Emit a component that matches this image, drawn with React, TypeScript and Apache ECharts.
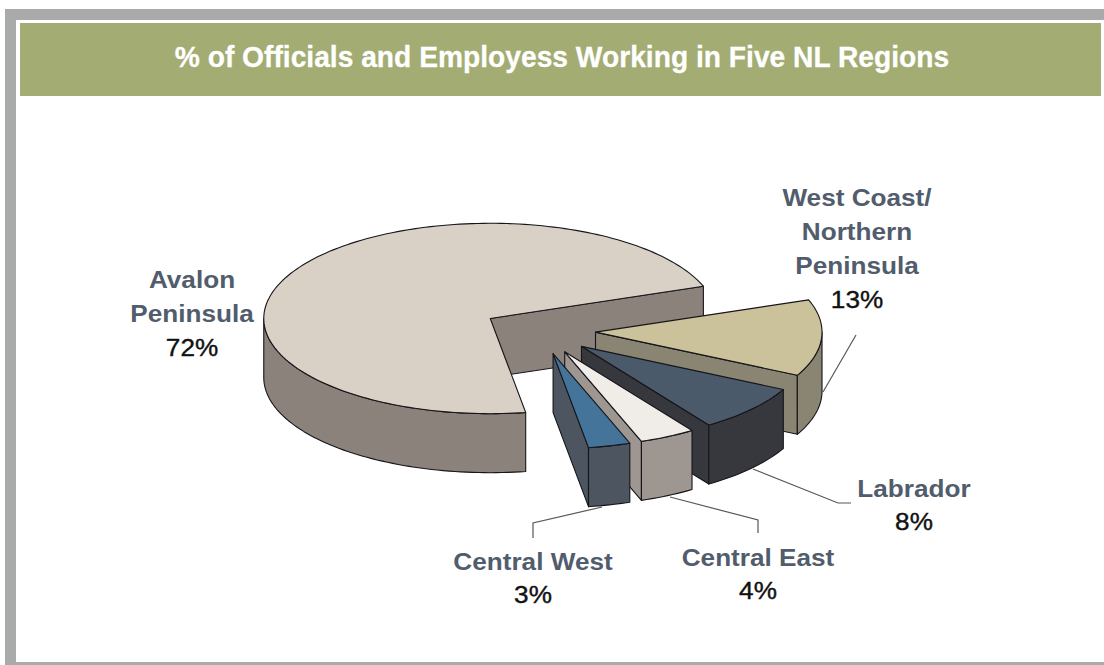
import React, { useEffect, useRef } from "react";
import * as echarts from "echarts";

const titleText = "% of Officials and Employess Working in Five NL Regions";
// Clockwise around the pie, starting from the gap side of the largest slice
const regions = ["Avalon\nPeninsula", "West Coast/\nNorthern\nPeninsula", "Labrador", "Central East", "Central West"];
const shares = [72, 13, 8, 4, 3];

const topColors = ["#d9d0c6", "#cbc29b", "#4b5a6a", "#f0ece8", "#44749a"];
const sideColors = ["#8b827c", "#8a8473", "#36383e", "#9e9690", "#4c5560"];

const PIE = { cx: 539, cy: 330.6, rx: 226.5, ry: 95.2, depth: 59, explode: 0.25, startDeg: 279 };
const labelAnchors = [
  { x: 192, y: 279 },
  { x: 857, y: 197 },
  { x: 914, y: 488 },
  { x: 758, y: 557 },
  { x: 533, y: 561 },
];
const LINE_GAP = 34;
const leaders: number[][][] = [
  [[823, 392], [856, 335]],
  [[753, 469], [838, 503], [851, 503]],
  [[670, 497], [758, 520], [758, 533]],
  [[602, 507], [533, 523], [533, 538]],
];

const total = shares.reduce((s, v) => s + v, 0);
const RAD = Math.PI / 180;

function slicePolys(index: number) {
  const before = shares.slice(0, index).reduce((s, v) => s + v, 0);
  const hi = PIE.startDeg - (before / total) * 360;
  const lo = hi - (shares[index] / total) * 360;
  const mid = (lo + hi) / 2;
  const ox = PIE.cx + PIE.explode * PIE.rx * Math.cos(mid * RAD);
  const oy = PIE.cy - PIE.explode * PIE.ry * Math.sin(mid * RAD);
  const pt = (deg: number, dy = 0) => [
    ox + PIE.rx * Math.cos(deg * RAD),
    oy - PIE.ry * Math.sin(deg * RAD) + dy,
  ];
  const arc = (from: number, to: number, dy = 0) => {
    const n = Math.max(2, Math.ceil(Math.abs(to - from) / 1.5));
    const out: number[][] = [];
    for (let i = 0; i <= n; i++) out.push(pt(from + ((to - from) * i) / n, dy));
    return out;
  };
  const apex = [ox, oy];
  const apexLow = [ox, oy + PIE.depth];
  const faces: number[][][] = [];
  // the cut faces that look towards the viewer
  if (Math.cos(lo * RAD) > 0) faces.push([apex, pt(lo), pt(lo, PIE.depth), apexLow]);
  if (Math.cos(hi * RAD) < 0) faces.push([apex, pt(hi), pt(hi, PIE.depth), apexLow]);
  // the visible part of the outer wall: the front half of the ellipse
  const walls: number[][][] = [];
  for (const shift of [0, -360]) {
    const a = Math.max(lo, 180 + shift);
    const b = Math.min(hi, 360 + shift);
    if (b > a) walls.push([...arc(a, b), ...arc(b, a, PIE.depth)]);
  }
  const top = [apex, ...arc(lo, hi)];
  return { faces, walls, top };
}

function renderSlice(params: any, api: any) {
  const i = params.dataIndex;
  api.value(0);
  const { faces, walls, top } = slicePolys(i);
  const line = { stroke: "#15151a", lineWidth: 1.1, lineJoin: "round" };
  const poly = (points: number[][], fill: string) => ({
    type: "polygon",
    shape: { points },
    style: { fill, ...line },
  });
  return {
    type: "group",
    children: [
      ...faces.map((p) => poly(p, sideColors[i])),
      ...walls.map((p) => poly(p, sideColors[i])),
      poly(top, topColors[i]),
    ],
  };
}

function labelGraphics() {
  const out: any[] = [];
  regions.forEach((name, i) => {
    const lines = name.split("\n");
    const { x, y } = labelAnchors[i];
    lines.forEach((t, k) => {
      out.push({
        type: "text",
        x,
        y: y + k * LINE_GAP,
        scaleX: 1.09,
        z: 20,
        style: {
          text: t,
          fontFamily: "Liberation Sans",
          fontWeight: "bold",
          fontSize: 24,
          fill: "#515c6c",
          textAlign: "center",
          textVerticalAlign: "middle",
        },
      });
    });
    out.push({
      type: "text",
      x,
      y: y + lines.length * LINE_GAP - (lines.length === 1 ? 1 : 0),
      scaleX: 1.09,
      z: 20,
      style: {
        text: `${shares[i]}%`,
        fontFamily: "Liberation Sans",
        fontSize: 24,
        fill: "#111111",
        stroke: "#111111",
        lineWidth: 0.4,
        textAlign: "center",
        textVerticalAlign: "middle",
      },
    });
  });
  return out;
}

export default function App() {
  const ref = useRef<HTMLDivElement>(null);
  useEffect(() => {
    document.body.style.margin = "0";
    const chart = echarts.init(ref.current!, undefined, { renderer: "svg" });
    chart.setOption({
      animation: false,
      backgroundColor: "#ffffff",
      graphic: [
        { type: "rect", z: 1, shape: { x: 5, y: 9, width: 1099, height: 11 }, style: { fill: "#a9abaa" } },
        { type: "rect", z: 1, shape: { x: 5, y: 9, width: 11, height: 656 }, style: { fill: "#a9abaa" } },
        { type: "rect", z: 1, shape: { x: 5, y: 662, width: 1099, height: 3 }, style: { fill: "#a9abaa" } },
        { type: "rect", z: 1, shape: { x: 20, y: 23, width: 1081, height: 73 }, style: { fill: "#a3ac72" } },
        {
          type: "text",
          x: 562,
          y: 57,
          scaleX: 0.94,
          z: 20,
          style: {
            text: titleText,
            fontFamily: "Liberation Sans",
            fontWeight: "bold",
            fontSize: 30,
            fill: "#ffffff",
            stroke: "#ffffff",
            lineWidth: 0.3,
            textAlign: "center",
            textVerticalAlign: "middle",
          },
        },
        ...leaders.map((points) => ({
          type: "polyline",
          z: 0,
          shape: { points },
          style: { stroke: "#5a5754", lineWidth: 1.2, fill: "none" },
        })),
        ...labelGraphics(),
      ],
      series: [
        {
          type: "custom",
          coordinateSystem: "none",
          silent: true,
          clip: false,
          z: 5,
          renderItem: renderSlice,
          data: shares.map((value, i) => ({ name: regions[i].replace(/\n/g, " "), value })),
        },
      ],
    });
    return () => chart.dispose();
  }, []);
  return <div ref={ref} style={{ position: "absolute", left: 0, top: 0, width: 1104, height: 665 }} />;
}
